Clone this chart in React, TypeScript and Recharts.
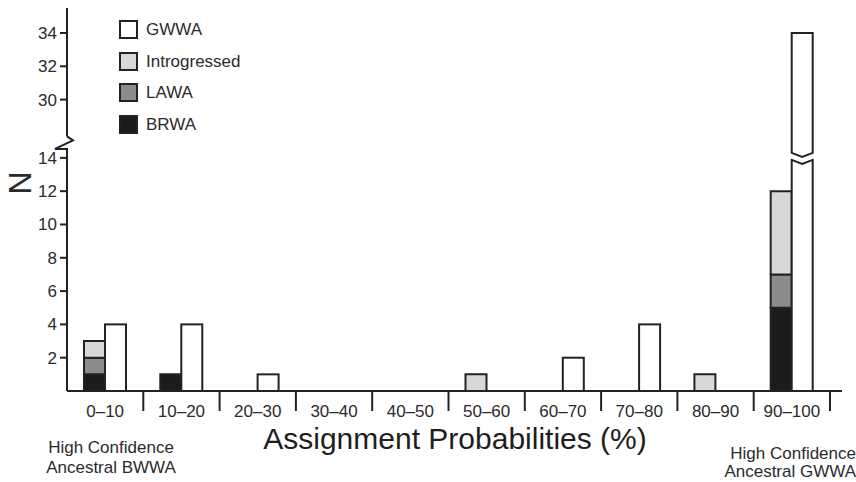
import { BarChart, Bar, XAxis, YAxis } from 'recharts';

const categories = ['0–10', '10–20', '20–30', '30–40', '40–50', '50–60', '60–70', '70–80', '80–90', '90–100'];
const brwa = [1, 1, 0, 0, 0, 0, 0, 0, 0, 5];
const lawa = [1, 0, 0, 0, 0, 0, 0, 0, 0, 2];
const introgressed = [1, 0, 0, 0, 0, 1, 0, 0, 1, 5];
const gwwa = [4, 4, 1, 0, 0, 0, 2, 4, 0, 34];

const lowerTicks = [2, 4, 6, 8, 10, 12, 14];
const upperTicks = [30, 32, 34];

// broken axis: values above BREAK are shifted down by OFFSET
const BREAK = 15;
const OFFSET = 12.5;
const AXIS_BREAK_AT = 14.9;
const BAR_BREAK_AT = 14;

const toAxis = (v: number) => (v > BREAK ? v - OFFSET : v);
const fromAxis = (v: number) => (v > BREAK ? v + OFFSET : v);

const data = categories.map((c, i) => ({
  cat: c,
  brwa: brwa[i],
  lawa: lawa[i],
  introgressed: introgressed[i],
  gwwa: toAxis(gwwa[i]),
  gwwaRaw: gwwa[i],
}));

const yTicks = [...lowerTicks, AXIS_BREAK_AT, ...upperTicks.map(toAxis)];

const W = 856;
const H = 482;
const MARGIN = { top: 8, right: 14, bottom: 61, left: 0 };
const Y_WIDTH = 67;
const X_PAD_RIGHT = 12;
const BAND = (W - MARGIN.left - MARGIN.right - Y_WIDTH - X_PAD_RIGHT) / categories.length;

const FONT = '"Liberation Sans", Arial, Helvetica, sans-serif';
const INK = '#222';
const TEXT = '#2b2b2b';

const colors = {
  gwwa: '#ffffff',
  introgressed: '#d8d8d8',
  lawa: '#8c8c8c',
  brwa: '#1c1c1c',
};

const legendItems = [
  { label: 'GWWA', color: colors.gwwa },
  { label: 'Introgressed', color: colors.introgressed },
  { label: 'LAWA', color: colors.lawa },
  { label: 'BRWA', color: colors.brwa },
];

const YTick = (props: any) => {
  const { x, y, payload } = props;
  const v = payload.value;
  if (v === AXIS_BREAK_AT) {
    return (
      <g>
        <rect x={x - 3} y={y - 6.5} width={6} height={12.5} fill="#fff" />
        <path
          d={`M${x},${y - 6.5} L${x + 6},${y - 2.5} L${x - 12},${y + 6} L${x + 1},${y + 6}`}
          fill="none"
          stroke={INK}
          strokeWidth={2}
        />
      </g>
    );
  }
  return (
    <g>
      <line x1={x - 7} x2={x} y1={y} y2={y} stroke={INK} strokeWidth={2} />
      <text x={x - 10} y={y} dy={6} textAnchor="end" fontSize={17} fontFamily={FONT} fill={TEXT}>
        {fromAxis(v)}
      </text>
    </g>
  );
};

const XTick = (props: any) => {
  const { x, y, payload } = props;
  return (
    <g>
      <line x1={x + BAND / 2} x2={x + BAND / 2} y1={y} y2={y + 20} stroke={INK} strokeWidth={2} />
      <text x={x} y={y + 26} textAnchor="middle" fontSize={17} fontFamily={FONT} fill={TEXT}>
        {payload.value}
      </text>
    </g>
  );
};

const GwwaBar = (props: any) => {
  const { x, y, width, height, payload } = props;
  if (!height || height <= 0) return null;
  const bottom = y + height;
  if (payload.gwwaRaw <= BREAK) {
    return <rect x={x} y={y} width={width} height={height} fill={colors.gwwa} stroke={INK} strokeWidth={2} />;
  }
  const perUnit = height / payload.gwwa;
  const yb = bottom - BAR_BREAK_AT * perUnit;
  const mid = x + width / 2;
  const upper = `M${x},${y} L${x + width},${y} L${x + width},${yb - 5} L${mid},${yb - 1} L${x},${yb - 5} Z`;
  const lower = `M${x},${yb + 2} L${mid},${yb + 6} L${x + width},${yb + 2} L${x + width},${bottom} L${x},${bottom} Z`;
  return (
    <g>
      <path d={upper} fill={colors.gwwa} stroke={INK} strokeWidth={2} />
      <path d={lower} fill={colors.gwwa} stroke={INK} strokeWidth={2} />
    </g>
  );
};

const App = () => {
  return (
    <div style={{ position: 'absolute', left: 0, top: 0, width: W, height: H, background: '#fff', fontFamily: FONT }}>
      <BarChart width={W} height={H} data={data} margin={MARGIN} barGap={0} barSize={21}>
        <XAxis
          dataKey="cat"
          interval={0}
          tickSize={0}
          tickMargin={0}
          height={30}
          padding={{ left: 0, right: X_PAD_RIGHT }}
          axisLine={{ stroke: INK, strokeWidth: 2 }}
          tickLine={false}
          tick={<XTick />}
        />
        <YAxis
          type="number"
          domain={[0, 23]}
          ticks={yTicks}
          interval={0}
          width={Y_WIDTH}
          tickSize={0}
          tickMargin={0}
          axisLine={{ stroke: INK, strokeWidth: 2 }}
          tickLine={false}
          tick={<YTick />}
        />
        <Bar dataKey="brwa" stackId="a" fill={colors.brwa} stroke={INK} strokeWidth={2} isAnimationActive={false} />
        <Bar dataKey="lawa" stackId="a" fill={colors.lawa} stroke={INK} strokeWidth={2} isAnimationActive={false} />
        <Bar
          dataKey="introgressed"
          stackId="a"
          fill={colors.introgressed}
          stroke={INK}
          strokeWidth={2}
          isAnimationActive={false}
        />
        <Bar dataKey="gwwa" fill={colors.gwwa} shape={<GwwaBar />} isAnimationActive={false} />
      </BarChart>

      {/* legend */}
      <div style={{ position: 'absolute', left: 119, top: 20 }}>
        {legendItems.map((item) => (
          <div key={item.label} style={{ display: 'flex', alignItems: 'center', height: 19, marginBottom: 12.5 }}>
            <div
              style={{
                width: 15,
                height: 15,
                border: `2px solid ${INK}`,
                background: item.color,
              }}
            />
            <span style={{ marginLeft: 8, fontSize: 17, color: TEXT, lineHeight: '19px' }}>{item.label}</span>
          </div>
        ))}
      </div>

      {/* y label */}
      <div
        style={{
          position: 'absolute',
          left: 20,
          top: 183,
          transform: 'translate(-50%, -50%) rotate(-90deg)',
          fontSize: 32,
          color: TEXT,
          lineHeight: 1,
        }}
      >
        N
      </div>

      {/* x title */}
      <div
        style={{
          position: 'absolute',
          left: 455,
          top: 422,
          transform: 'translateX(-50%)',
          fontSize: 30,
          color: '#1e1e1e',
          whiteSpace: 'nowrap',
          lineHeight: '34px',
        }}
      >
        Assignment Probabilities (%)
      </div>

      {/* annotations */}
      <div
        style={{
          position: 'absolute',
          left: 111,
          top: 438,
          transform: 'translateX(-50%)',
          fontSize: 17,
          color: TEXT,
          textAlign: 'center',
          lineHeight: '20px',
          whiteSpace: 'nowrap',
        }}
      >
        High Confidence
        <br />
        Ancestral BWWA
      </div>
      <div
        style={{
          position: 'absolute',
          right: 0,
          top: 445,
          fontSize: 17,
          color: TEXT,
          textAlign: 'right',
          lineHeight: '18px',
          whiteSpace: 'nowrap',
        }}
      >
        High Confidence
        <br />
        Ancestral GWWA
      </div>
    </div>
  );
};

export default App;
